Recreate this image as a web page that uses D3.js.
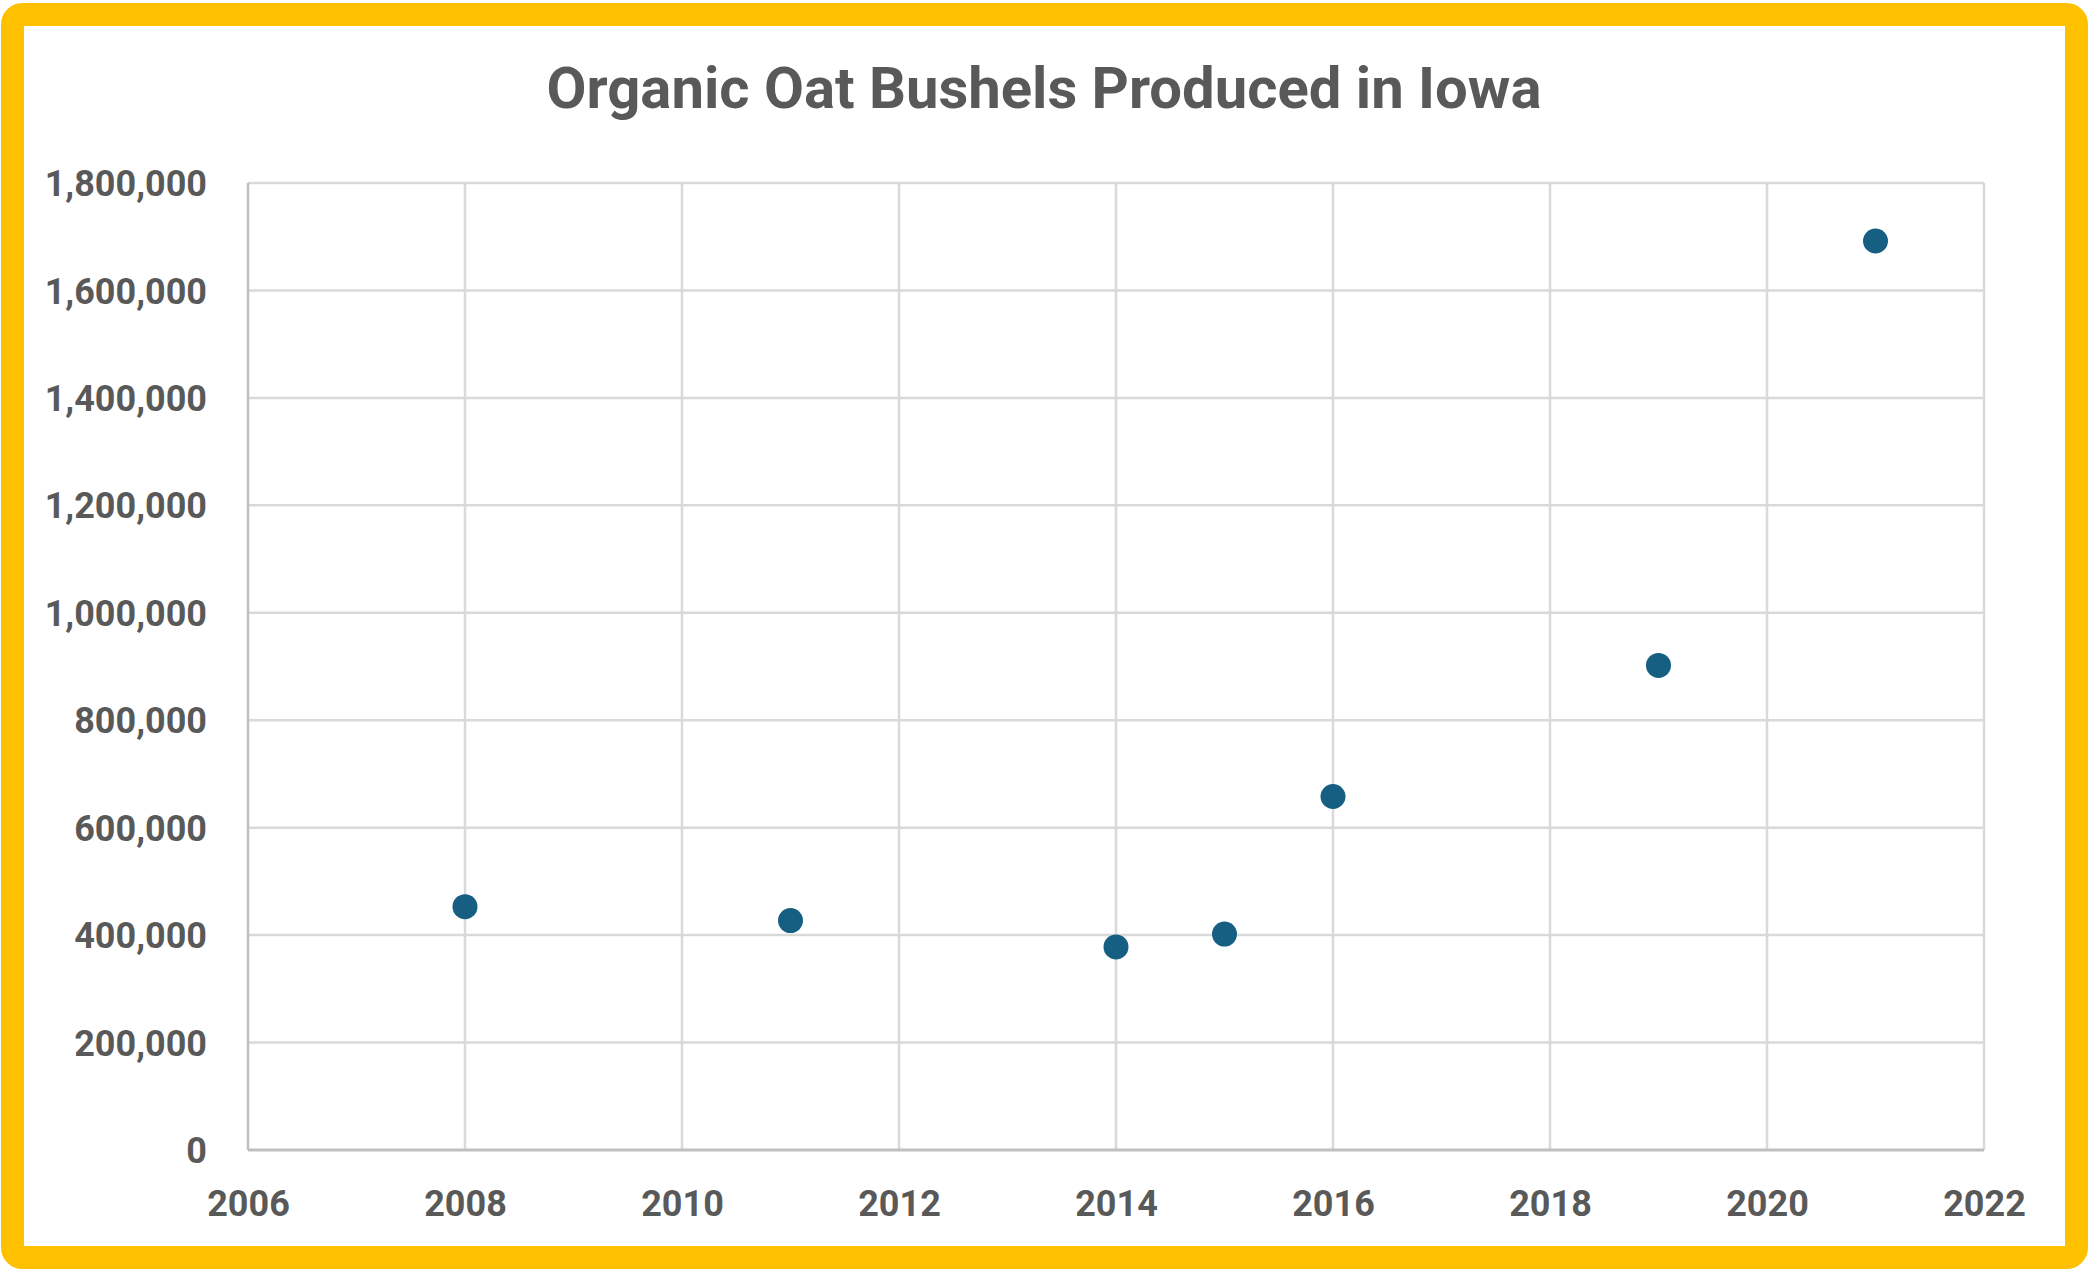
<!DOCTYPE html>
<html>
<head>
<meta charset="utf-8">
<script src="https://cdn.jsdelivr.net/npm/d3@7"></script>
<style>
  body { margin: 0; background: #fff; }
  text { font-family: "Roboto", sans-serif; font-weight: bold; fill: #595959; }
</style>
</head>
<body>
<svg id="chart" width="2090" height="1274"></svg>
<script>
// data
var years = [2008, 2011, 2014, 2015, 2016, 2019, 2021];
var bushels = [453000, 427000, 378000, 402000, 658000, 902000, 1692000];
var xTicks = [2006, 2008, 2010, 2012, 2014, 2016, 2018, 2020, 2022];
var yTicks = [0, 200000, 400000, 600000, 800000, 1000000, 1200000, 1400000, 1600000, 1800000];
var title = "Organic Oat Bushels Produced in Iowa";

// plot area (note: "top" is taken by window.top)
var plotLeft = 248, plotRight = 1984, plotTop = 183, plotBottom = 1150;

var svg = d3.select("#chart");

// yellow frame
svg.append("rect")
  .attr("x", 12.5).attr("y", 14.5)
  .attr("width", 2064).attr("height", 1243)
  .attr("rx", 10)
  .attr("fill", "#fff")
  .attr("stroke", "#FFC000")
  .attr("stroke-width", 23);

var x = d3.scaleLinear().domain([2006, 2022]).range([plotLeft, plotRight]);
var y = d3.scaleLinear().domain([0, 1800000]).range([plotBottom, plotTop]);

// grid lines
var grid = svg.append("g");
grid.selectAll(".hgrid")
  .data(yTicks.slice(1)).enter()
  .append("line")
  .attr("x1", plotLeft).attr("x2", plotRight)
  .attr("y1", function(d) { return y(d); })
  .attr("y2", function(d) { return y(d); })
  .attr("stroke", "#D9D9D9")
  .attr("stroke-width", 2.5);
grid.selectAll(".vgrid")
  .data(xTicks).enter()
  .append("line")
  .attr("x1", function(d) { return x(d); })
  .attr("x2", function(d) { return x(d); })
  .attr("y1", plotTop).attr("y2", plotBottom)
  .attr("stroke", function(d, i) { return i === 0 ? "#BFBFBF" : "#D9D9D9"; })
  .attr("stroke-width", 2.5);

// x axis line
svg.append("line")
  .attr("x1", plotLeft).attr("x2", plotRight)
  .attr("y1", y(0)).attr("y2", y(0))
  .attr("stroke", "#BFBFBF")
  .attr("stroke-width", 3);

// axes (labels only)
var fmt = d3.format(",");
var yAxis = svg.append("g")
  .attr("transform", "translate(" + (plotLeft - 41) + ",0)")
  .call(d3.axisLeft(y).tickValues(yTicks).tickFormat(fmt).tickSize(0).tickPadding(0));
yAxis.select(".domain").remove();
yAxis.selectAll("text")
  .attr("style", "font-size: 36px")
  .attr("dy", "0.35em");

var xAxis = svg.append("g")
  .attr("transform", "translate(0," + (plotBottom + 40) + ")")
  .call(d3.axisBottom(x).tickValues(xTicks).tickFormat(d3.format("d")).tickSize(0).tickPadding(0));
xAxis.select(".domain").remove();
xAxis.selectAll("text")
  .attr("style", "font-size: 36px")
  .attr("dy", "0.71em");

// points
svg.append("g")
  .selectAll("circle")
  .data(years).enter()
  .append("circle")
  .attr("cx", function(d) { return x(d); })
  .attr("cy", function(d, i) { return y(bushels[i]); })
  .attr("r", 12.5)
  .attr("fill", "#175F82");

// title
svg.append("text")
  .attr("x", 1044)
  .attr("y", 108)
  .attr("text-anchor", "middle")
  .attr("style", "font-size: 58px")
  .text(title);
</script>
</body>
</html>
